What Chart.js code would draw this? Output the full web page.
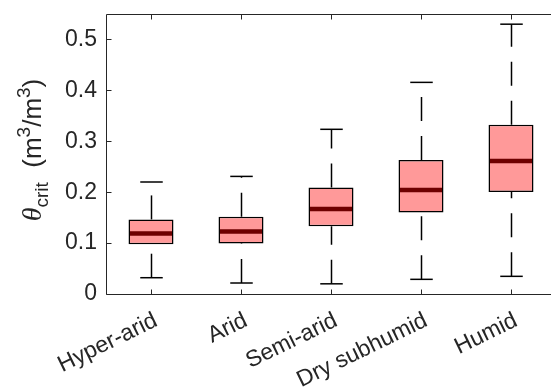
<!DOCTYPE html>
<html><head><meta charset="utf-8">
<script src="https://cdn.jsdelivr.net/npm/chart.js@4"></script>
<style>html,body{margin:0;padding:0;overflow:hidden;background:#fff}</style>
</head><body>
<canvas id="c" width="570" height="392"></canvas>
<script>
const categories = ['Hyper-arid', 'Arid', 'Semi-arid', 'Dry subhumid', 'Humid'];
const whiskerLow  = [0.032, 0.0216, 0.020, 0.0288, 0.0347];
const q1          = [0.0975, 0.0994, 0.133, 0.160, 0.2006];
const median      = [0.119, 0.123, 0.167, 0.2045, 0.2614];
const q3          = [0.1465, 0.1516, 0.209, 0.263, 0.3327];
const whiskerHigh = [0.220, 0.231, 0.3235, 0.4157, 0.530];
const yTicks = [0, 0.1, 0.2, 0.3, 0.4, 0.5];

const AXIS = '#262626';
const FONT = '"Liberation Sans", Arial, sans-serif';

const boxPlugin = {
  id: 'boxExtras',
  beforeDatasetsDraw(chart) {
    const ctx = chart.ctx, y = chart.scales.y;
    const bars = chart.getDatasetMeta(0).data;
    ctx.save();
    ctx.strokeStyle = '#000';
    ctx.lineWidth = 1.5;
    ctx.setLineDash([24, 15]);
    bars.forEach((b, i) => {
      const x = Math.round(b.x) + 0.5;
      ctx.beginPath();
      ctx.moveTo(x, y.getPixelForValue(whiskerLow[i]));
      ctx.lineTo(x, y.getPixelForValue(q1[i]));
      ctx.stroke();
      ctx.beginPath();
      ctx.moveTo(x, y.getPixelForValue(q3[i]));
      ctx.lineTo(x, y.getPixelForValue(whiskerHigh[i]));
      ctx.stroke();
    });
    ctx.restore();
  },
  afterDatasetsDraw(chart) {
    const ctx = chart.ctx, y = chart.scales.y;
    const bars = chart.getDatasetMeta(0).data;
    ctx.save();
    bars.forEach((b, i) => {
      const x = Math.round(b.x) + 0.5;
      const hw = b.width / 2;
      ctx.strokeStyle = '#000';
      ctx.lineWidth = 1.5;
      [whiskerLow[i], whiskerHigh[i]].forEach(v => {
        const py = y.getPixelForValue(v);
        ctx.beginPath();
        ctx.moveTo(x - hw / 2, py);
        ctx.lineTo(x + hw / 2, py);
        ctx.stroke();
      });
      ctx.strokeStyle = '#6E0000';
      ctx.lineWidth = 4.5;
      const my = y.getPixelForValue(median[i]);
      ctx.beginPath();
      ctx.moveTo(b.x - hw + 1.5, my);
      ctx.lineTo(b.x + hw - 1.5, my);
      ctx.stroke();
    });
    ctx.restore();
  },
  afterDraw(chart) {
    const ctx = chart.ctx, a = chart.chartArea;
    const y = chart.scales.y, xs = chart.scales.x;
    ctx.save();
    ctx.strokeStyle = AXIS;
    ctx.lineWidth = 1;
    const L = a.left + 0.5, R = a.right, T = a.top + 0.5, B = a.bottom + 0.5;
    ctx.beginPath();
    ctx.moveTo(R, T); ctx.lineTo(L, T); ctx.lineTo(L, B); ctx.lineTo(R, B);
    y.ticks.forEach(t => {
      const py = Math.round(y.getPixelForValue(t.value)) + 0.5;
      ctx.moveTo(L, py); ctx.lineTo(L + 5, py);
    });
    categories.forEach((c, i) => {
      const px = Math.round(xs.getPixelForValue(i)) + 0.5;
      ctx.moveTo(px, B); ctx.lineTo(px, B - 5);
      ctx.moveTo(px, T); ctx.lineTo(px, T + 5);
    });
    ctx.stroke();
    const parts = [
      { t: '\u03B8', f: 'italic 28px "Liberation Serif", serif', dy: 0 },
      { t: 'crit', f: '19px ' + FONT, dy: 7 },
      { t: '  (m', f: '26px ' + FONT, dy: 0 },
      { t: '3', f: '19px ' + FONT, dy: -11 },
      { t: '/m', f: '26px ' + FONT, dy: 0 },
      { t: '3', f: '19px ' + FONT, dy: -11 },
      { t: ')', f: '26px ' + FONT, dy: 0 }
    ];
    let total = 0;
    parts.forEach(p => { ctx.font = p.f; p.w = ctx.measureText(p.t).width; total += p.w; });
    ctx.translate(41, 150);
    ctx.rotate(-Math.PI / 2);
    ctx.fillStyle = AXIS;
    ctx.textBaseline = 'alphabetic';
    let x = -total / 2;
    parts.forEach(p => { ctx.font = p.f; ctx.fillText(p.t, x, p.dy); x += p.w; });
    ctx.restore();
  }
};

new Chart(document.getElementById('c'), {
  type: 'bar',
  data: {
    labels: categories,
    datasets: [{
      data: categories.map((c, i) => [q1[i], q3[i]]),
      backgroundColor: '#FF9999',
      borderColor: '#000',
      borderWidth: 1.5,
      borderSkipped: false,
      barPercentage: 0.5,
      categoryPercentage: 1.0
    }]
  },
  options: {
    responsive: false,
    animation: false,
    devicePixelRatio: 1,
    layout: { padding: { top: 14, right: 14, left: 0, bottom: 0 } },
    plugins: { legend: { display: false }, tooltip: { enabled: false } },
    scales: {
      x: {
        grid: { display: false, drawTicks: false },
        border: { display: false },
        ticks: {
          color: AXIS, font: { family: FONT, size: 23 },
          minRotation: 26, maxRotation: 26, padding: 13, labelOffset: 5, autoSkip: false
        },
        afterFit(s) { s.height = 98; s.paddingLeft = 0; s.paddingRight = 0; }
      },
      y: {
        min: 0, max: 0.55,
        grid: { display: false, drawTicks: false },
        border: { display: false },
        afterBuildTicks(s) { s.ticks = yTicks.map(v => ({ value: v })); },
        ticks: {
          color: AXIS, font: { family: FONT, size: 23 }, padding: 9,
          callback: v => (v === 0 ? '0' : String(Math.round(v * 10) / 10))
        },
        afterFit(s) { s.width = 106; s.paddingTop = 0; s.paddingBottom = 0; }
      }
    }
  },
  plugins: [boxPlugin]
});
</script>
</body></html>
